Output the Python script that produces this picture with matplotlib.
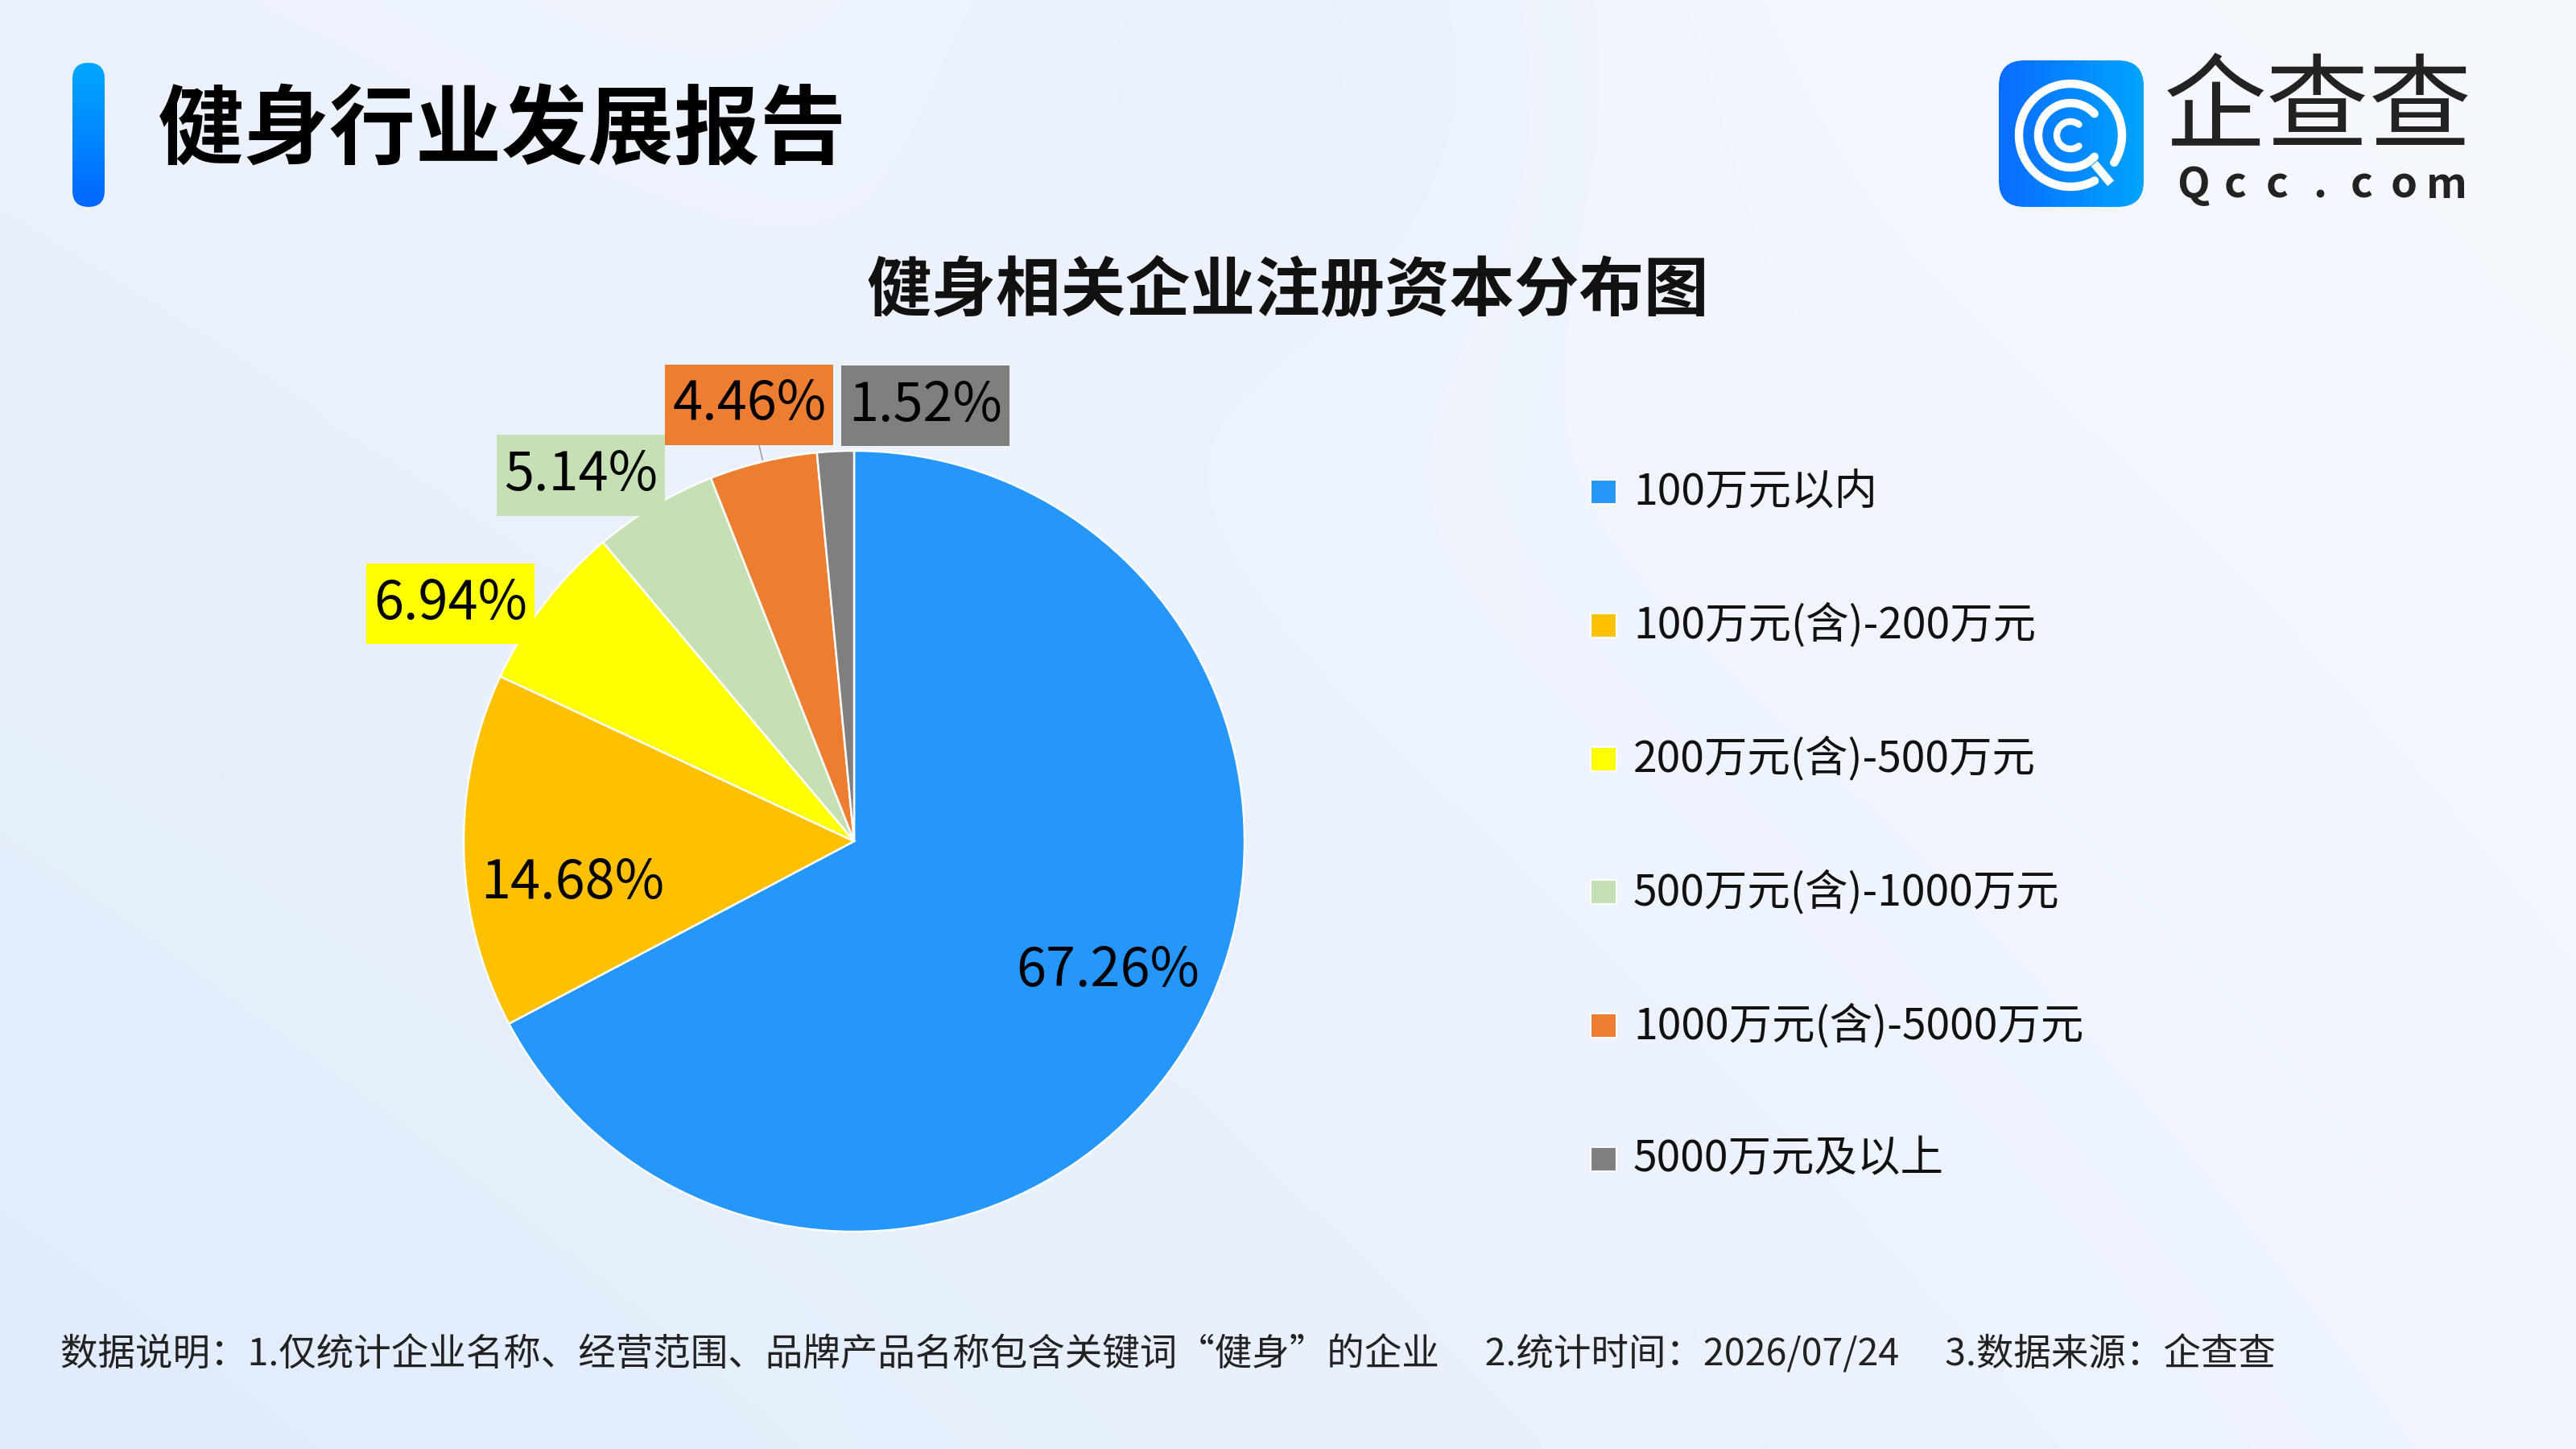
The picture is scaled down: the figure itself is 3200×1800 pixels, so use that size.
import numpy as np
import matplotlib
matplotlib.use("Agg")
import matplotlib.pyplot as plt
from matplotlib.patches import FancyBboxPatch, Rectangle, Arc
from matplotlib.path import Path

plt.rcParams['font.family'] = ['Noto Sans CJK SC', 'DejaVu Sans']

# ── Data ───────────────────────────────────────────────────────────────
CATEGORIES = ['100万元以内', '100万元(含)-200万元', '200万元(含)-500万元',
              '500万元(含)-1000万元', '1000万元(含)-5000万元', '5000万元及以上']
SHARES = [67.26, 14.68, 6.94, 5.14, 4.46, 1.52]
COLORS = ['#2597FB', '#FFC000', '#FFFF00', '#C5E0B4', '#ED7D31', '#7F7F7F']

TITLE = '健身行业发展报告'
CHART_TITLE = '健身相关企业注册资本分布图'
FOOTNOTE = ('数据说明：1.仅统计企业名称、经营范围、品牌产品名称包含关键词“健身”的企业'
            '\u3000 2.统计时间：2026/07/24\u3000 3.数据来源：企查查')

# label placement (radius in pie units, angle nudge in degrees)
LABEL_R = [0.73, 0.73, 1.20, 1.17, 1.15, 1.13]
LABEL_NUDGE = [4, 7, 7, 6, 0, -12]
BOXED = [False, False, True, True, True, True]
LEADER = [False, False, False, False, True, False]

W, H = 3200, 1800
fig = plt.figure(figsize=(32, 18), dpi=100)


def label_box(x0, y0, width, height, mutation_size):
    # flat box, a bit taller than the text line
    px, py = 0.135 * mutation_size, 0.245 * mutation_size
    x0, y0 = x0 - px, y0 - py
    x1, y1 = x0 + width + 2 * px, y0 + height + 2 * py
    return Path([(x0, y0), (x1, y0), (x1, y1), (x0, y1), (x0, y0)],
                [Path.MOVETO, Path.LINETO, Path.LINETO, Path.LINETO, Path.CLOSEPOLY])


# ── Background (pixel coords, y down) ──────────────────────────────────
bg = fig.add_axes([0, 0, 1, 1])
bg.axis('off')

yy, xx = np.mgrid[0:H:10, 0:W:10].astype(float)
t, s = xx / W, yy / H
tl = np.array([236, 242, 252]); tr = np.array([246, 249, 254])
bl = np.array([224, 235, 251]); br = np.array([240, 245, 254])
img = ((1 - t)[..., None] * (1 - s)[..., None] * tl + t[..., None] * (1 - s)[..., None] * tr
       + (1 - t)[..., None] * s[..., None] * bl + t[..., None] * s[..., None] * br)
blob = np.exp(-(((xx - 1560) ** 2 + (yy - 20) ** 2) / (2 * 300.0 ** 2)))
img = img * (1 - 0.5 * blob[..., None]) + np.array([228, 238, 252]) * 0.5 * blob[..., None]
bg.imshow(img / 255.0, extent=[0, W, H, 0], aspect='auto', interpolation='bilinear', zorder=0)

# title bar with vertical gradient
bar = FancyBboxPatch((90, 78), 40, 179, boxstyle='round,pad=0,rounding_size=20',
                     facecolor='none', edgecolor='none')
bg.add_patch(bar)
g = np.linspace(0, 1, 100)[:, None, None]
grad = (1 - g) * np.array([0, 168, 255]) + g * np.array([0, 102, 255])
im = bg.imshow(grad / 255.0, extent=[90, 130, 257, 78], aspect='auto', zorder=2)
im.set_clip_path(bar)

bg.text(196, 164, TITLE, fontsize=77, fontweight=900, color='#000000',
        ha='left', va='center', zorder=5)

# ── Logo ───────────────────────────────────────────────────────────────
logo = FancyBboxPatch((2483, 75), 180, 182, boxstyle='round,pad=0,rounding_size=32',
                      facecolor='none', edgecolor='none')
bg.add_patch(logo)
gx = np.linspace(0, 1, 100)[None, :, None]
lgrad = (1 - gx) * np.array([10, 108, 255]) + gx * np.array([0, 164, 255])
lim = bg.imshow(np.repeat(lgrad, 10, axis=0) / 255.0, extent=[2483, 2663, 257, 75],
                aspect='auto', zorder=2)
lim.set_clip_path(logo)
cx, cy = 2572, 168
for r, th1, th2, lw in [(64, 62, 392, 7.5), (40, 42, 318, 7.5), (17, 52, 308, 6)]:
    a = Arc((cx, cy), 2 * r, 2 * r, theta1=th1, theta2=th2, color='white', lw=lw, zorder=3)
    a.set_capstyle('round')
    bg.add_patch(a)
ang = np.radians(50)
bg.plot([cx + 46 * np.cos(ang), cx + 78 * np.cos(ang)],
        [cy + 46 * np.sin(ang), cy + 78 * np.sin(ang)],
        color='white', lw=7.5, solid_capstyle='butt', zorder=3)

bg.text(2688, 203, '企查查', fontsize=92, fontweight='medium', color='#222222',
        ha='left', va='bottom', zorder=5)
for ch, x in zip('Qcc.com', np.linspace(2724, 3039, 7)):
    bg.text(x, 204, ch, fontsize=38, fontweight='bold', color='#222222',
            ha='center', va='top', zorder=5)

# ── Chart title ────────────────────────────────────────────────────────
bg.text(1600, 362, CHART_TITLE, fontsize=58, fontweight='bold', color='#111111',
        ha='center', va='center', zorder=5)

# ── Pie ────────────────────────────────────────────────────────────────
pcx, pcy, pr = 1061, 1045, 485
ax = fig.add_axes([(pcx - pr) / W, (H - pcy - pr) / H, 2 * pr / W, 2 * pr / H])
wedges, _, autotexts = ax.pie(SHARES, colors=COLORS, startangle=90, counterclock=False,
                              autopct='%.2f%%', pctdistance=0.73,
                              wedgeprops=dict(edgecolor='white', linewidth=1.8),
                              textprops=dict(fontsize=48, color='#000000'))
ax.set_aspect('equal')
ax.set_xlim(-1, 1)
ax.set_ylim(-1, 1)
ax.axis('off')

for w, txt, r, nud, boxed, lead, col in zip(wedges, autotexts, LABEL_R, LABEL_NUDGE,
                                            BOXED, LEADER, COLORS):
    mid = np.radians((w.theta1 + w.theta2) / 2)
    pos = np.radians((w.theta1 + w.theta2) / 2 + nud)
    txt.set_position((r * np.cos(pos), r * np.sin(pos)))
    txt.set_ha('center')
    txt.set_va('center')
    txt.set_clip_on(False)
    if boxed:
        txt.set_bbox(dict(boxstyle=label_box, facecolor=col, edgecolor='none'))
        txt.set_zorder(6)
    if lead:
        ax.plot([np.cos(mid), 1.07 * np.cos(mid)], [np.sin(mid), 1.07 * np.sin(mid)],
                color='#A6A6A6', lw=1.3, zorder=0, clip_on=False)

# ── Legend ─────────────────────────────────────────────────────────────
for i, (lab, col) in enumerate(zip(CATEGORIES, COLORS)):
    y = 611 + i * 165.8
    bg.add_patch(Rectangle((1976, y - 15), 32, 30, facecolor=col, edgecolor='white',
                           lw=1.5, zorder=4))
    bg.text(2029, y, lab, fontsize=38.5, color='#111111', ha='left', va='center', zorder=5)

# ── Footnote ───────────────────────────────────────────────────────────
bg.text(75, 1683, FOOTNOTE, fontsize=33.5, color='#222222', ha='left', va='center', zorder=5)

bg.set_xlim(0, W)
bg.set_ylim(H, 0)

fig.savefig('out.png', dpi=100)
